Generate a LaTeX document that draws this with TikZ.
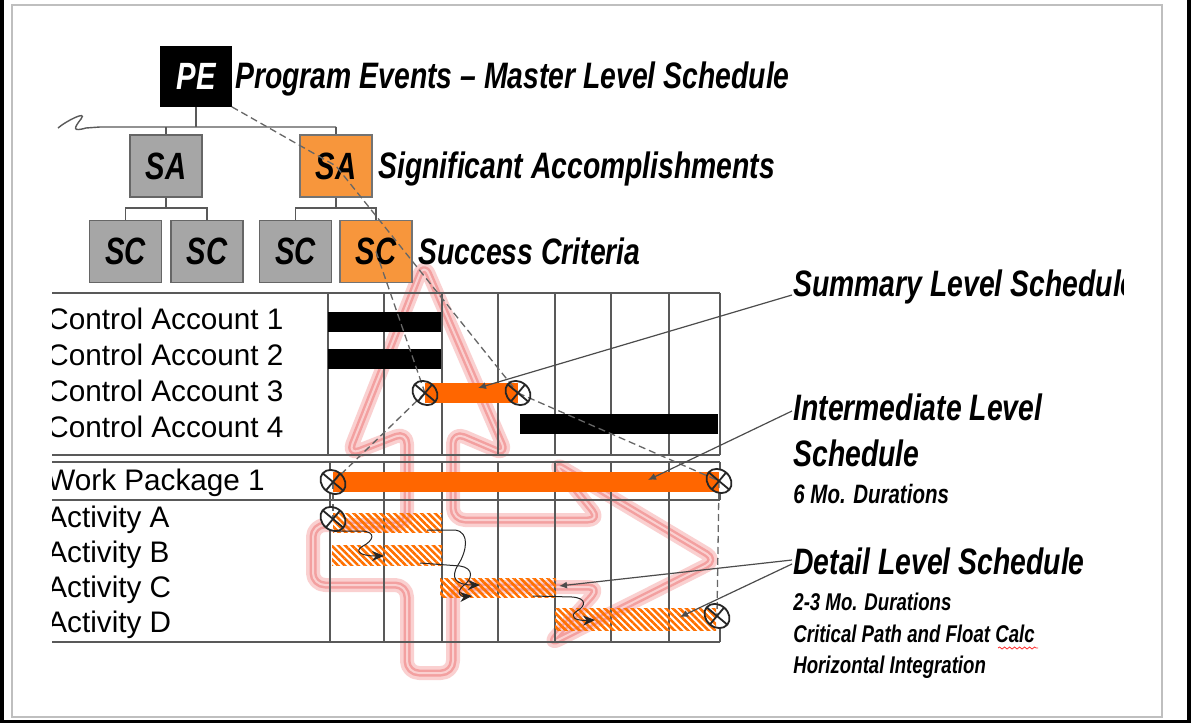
\documentclass[tikz,border=0pt]{standalone}
\usepackage{fontspec}
\setmainfont{Liberation Sans}
\newfontfamily\nar[FakeStretch=0.77]{Liberation Sans}
\usetikzlibrary{patterns.meta,arrows.meta,decorations.pathmorphing}
\definecolor{boxor}{RGB}{247,150,60}
\definecolor{baror}{RGB}{255,102,0}
\definecolor{hatchor}{RGB}{255,112,0}
\definecolor{boxgr}{RGB}{166,166,166}
\definecolor{wmout}{RGB}{250,208,208}
\definecolor{wmin}{RGB}{243,160,160}
\tikzset{
 hd/.style={font=\nar\bfseries\itshape\fontsize{18.4}{20}\selectfont, inner sep=0pt, anchor=base west},
 smalltxt/.style={font=\nar\bfseries\itshape\fontsize{12.1}{14}\selectfont, inner sep=0pt, anchor=base west},
 rowlbl/.style={font=\fontsize{14.85}{16}\selectfont, inner sep=0pt, anchor=base west},
 boxg/.style={draw=black!60, line width=0.8pt, fill=boxgr, inner sep=0pt, minimum width=36pt, minimum height=31pt, font=\nar\bfseries\itshape\fontsize{19}{20}\selectfont},
 boxo/.style={boxg, fill=boxor, draw=black!55},
 tree/.style={draw=black!65, line width=0.7pt},
 gridl/.style={draw=black!65, line width=0.65pt},
 dashl/.style={draw=black!60, line width=0.65pt, dash pattern=on 3.5pt off 2pt},
 callout/.style={draw=black!70, line width=0.6pt, -{Latex[length=4pt,width=3.5pt]}},
 prec/.style={draw=black!85, line width=0.5pt, -{Stealth[length=6pt,width=5pt]}},
 hatchbar/.style={pattern={Lines[angle=-45,distance=2.4pt,line width=1.3pt]}, pattern color=hatchor},
 msline/.style={draw=black!85, line width=0.9pt},
 wmpath/.style={rounded corners=6pt, line join=round}
}
\begin{document}
\begin{tikzpicture}[x=0.5pt,y=-0.5pt]
\useasboundingbox (0,0) rectangle (1191,723);
% frame
\fill[black] (0,0) rectangle (1191,723);
\fill[white] (4,0) rectangle (1187,720);
\draw[black!25, line width=1.2pt] (12,5) rectangle (1162,717);

% watermark
\def\wmshape{(407,673) -- (407,585) -- (313,585) -- (313,525) -- (407,525) -- (407,432) -- (348,455) -- (424,263) -- (507,455) -- (453,432) -- (453,520) -- (600,520) -- (553,462) -- (717,560) -- (548,645) -- (600,587) -- (453,587) -- (453,673) -- cycle}
\path[draw=wmout, line width=7pt, wmpath] \wmshape;
\path[draw=wmin, line width=3.5pt, wmpath] \wmshape;
\path[draw=wmout, line width=1pt, wmpath] \wmshape;

% hierarchy boxes
\node[boxg, fill=black, draw=black, text=white, minimum width=35pt, minimum height=29.5pt] (pe) at (196,76.5) {PE};
\node[boxg] (sa1) at (166,166) {SA};
\node[boxo] (sa2) at (336,166) {SA};
\node[boxg] (sc1) at (125.5,251.5) {SC};
\node[boxg] (sc2) at (207,251.5) {SC};
\node[boxg] (sc3) at (295.5,251.5) {SC};
\node[boxo] (sc4) at (376,251.5) {SC};

% tree connectors
\coordinate (busL) at (100,127);
\coordinate (busR) at (336,127);
\coordinate (sqs) at (58,128);
\draw[tree] (pe.south) -- (pe.south |- busL);
\draw[tree] (sqs) .. controls (66,121) and (88,110) .. (81,119) .. controls (74,128) and (72,132) .. (86,128) -- (busL) -- (busR);
\draw[tree] (sa1.north) -- (sa1.north |- busL);
\draw[tree] (sa2.north) -- (sa2.north |- busL);
\draw[tree] (sa1.south) -- ++(0,10) -| (sc1.north);
\draw[tree] (sa1.south) ++(0,10) -| (sc2.north);
\draw[tree] (sa2.south) -- ++(0,10) -| (sc3.north);
\draw[tree] (sa2.south) ++(0,10) -| (sc4.north);

% headings
\node[hd] (tpe) at (235,88) {Program Events – Master Level Schedule};
\node[hd] (tsa) at (378,178) {Significant Accomplishments};
\node[hd] (tsc) at (418,264) {Success Criteria};

% grid
\draw[gridl] (52,293) -- (720,293);
\draw[gridl] (52,455) -- (720,455);
\draw[gridl] (52,462) -- (720,462);
\draw[gridl] (52,500) -- (720,500);
\draw[gridl] (52,642) -- (720,642);
\foreach \x in {328,384,442,498,555,611,669,720} \draw[gridl] (\x,293) -- (\x,455);
\foreach \x in {330,384,442,498,555,611,669} \draw[gridl] (\x,462) -- (\x,642);
\draw[gridl] (720,462) -- (720,500);
\draw[gridl] (720,627) -- (720,642);

% row labels (clipped at left)
\begin{scope}
\clip (52,280) rectangle (330,650);
\node[rowlbl] (ca1) at (47,329) {Control Account 1};
\node[rowlbl] (ca2) at (47,365) {Control Account 2};
\node[rowlbl] (ca3) at (47,401) {Control Account 3};
\node[rowlbl] (ca4) at (47,437) {Control Account 4};
\node[rowlbl] (wp1) at (47,490) {Work Package 1};
\node[rowlbl] (aa) at (47,527) {Activity A};
\node[rowlbl] (ab) at (47,562) {Activity B};
\node[rowlbl] (ac) at (47,597) {Activity C};
\node[rowlbl] (ad) at (47,632) {Activity D};
\end{scope}

% milestones positions
\coordinate (m1) at (425,393);
\coordinate (m2) at (518,393);
\coordinate (m3) at (333,482);
\coordinate (m4) at (719,481);
\coordinate (m5) at (333,519);
\coordinate (m6) at (717,616);
\foreach \m in {m1,m2,m3,m4,m5,m6}
 \fill[white, rotate around={-40:(\m)}] (\m) ellipse [x radius=13.5, y radius=11];

% bars
\fill[black] (328,312) rectangle (441,332);
\fill[black] (328,349) rectangle (441,369);
\fill[baror] (425,383) rectangle (518,403);
\fill[black] (520,414) rectangle (718,434);
\fill[baror] (333,472) rectangle (719,492);
\path[hatchbar] (333,513) rectangle (442,532);
\path[hatchbar] (332,545) rectangle (442,565);
\path[hatchbar] (440,578) rectangle (556,597);
\path[hatchbar] (555,608) rectangle (716,630);

% dashed traceability lines
\draw[dashl] (pe.south east) -- (sa2.center) -- (m2);
\draw[dashl] (sc4.center) -- (m1);
\draw[dashl] (m1) -- (m3);
\draw[dashl] (m2) -- (m4);
\draw[dashl] (m4) -- (m6);
\draw[dashl] (m3) -- (m5);

% milestone symbols
\foreach \m in {m1,m2,m3,m4,m5,m6}
 \draw[msline, rotate around={-40:(\m)}] (\m) ellipse [x radius=13.5, y radius=11]
   (\m) ++(-13.5,0) -- ++(27,0) (\m) ++(0,-11) -- ++(0,22);

% precedence links
\coordinate (aEs) at (335,531);
\coordinate (bIn) at (384,556);
\draw[prec] (aEs) -- (362,531) .. controls (377,532) and (373,541) .. (363,546) .. controls (354,551) and (360,556) .. (bIn);
\coordinate (aE) at (427,530);
\coordinate (cIn1) at (480,585);
\draw[prec] (aE) -- (455,530) .. controls (470,532) and (467,551) .. (458,565) .. controls (450,578) and (456,585) .. (cIn1);
\coordinate (bE) at (420,563);
\coordinate (cIn2) at (472,596);
\draw[prec] (bE) -- (460,566) .. controls (474,568) and (473,579) .. (463,586) .. controls (456,592) and (460,597) .. (cIn2);
\coordinate (cE) at (533,596);
\coordinate (dIn) at (595,620);
\draw[prec] (cE) -- (572,597) .. controls (587,598) and (586,606) .. (577,611) .. controls (569,616) and (574,621) .. (dIn);

% right labels
\begin{scope}
\clip (780,250) rectangle (1123,320);
\node[hd] (sum) at (793,296) {Summary Level Schedule};
\end{scope}
\node[hd] (int1) at (793,420) {Intermediate Level};
\node[hd] (int2) at (793,466) {Schedule};
\node[smalltxt, font=\nar\bfseries\itshape\fontsize{13.3}{15}\selectfont] (int3) at (793,503) {6 Mo. Durations};
\node[hd] (det) at (793,574) {Detail Level Schedule};
\node[smalltxt] (det1) at (793,610) {2-3 Mo. Durations};
\node[smalltxt] (det2) at (793,642) {Critical Path and Float Calc};
\node[smalltxt] (det3) at (793,673) {Horizontal Integration};
\draw[red!80, line width=0.4pt, decorate, decoration={snake, amplitude=0.5pt, segment length=2.5pt}] (998,648) -- (1038,648);

% callouts
\coordinate (sumS) at (792,295);
\coordinate (sumT) at (478,388);
\draw[callout] (sumS) -- (sumT);
\coordinate (intS) at (792,411);
\coordinate (intT) at (648,480);
\draw[callout] (intS) -- (intT);
\coordinate (detS1) at (792,560);
\coordinate (detT1) at (559,586);
\draw[callout] (detS1) -- (detT1);
\coordinate (detS2) at (792,564);
\coordinate (detT2) at (680,617);
\draw[callout] (detS2) -- (detT2);
\end{tikzpicture}
\end{document}
